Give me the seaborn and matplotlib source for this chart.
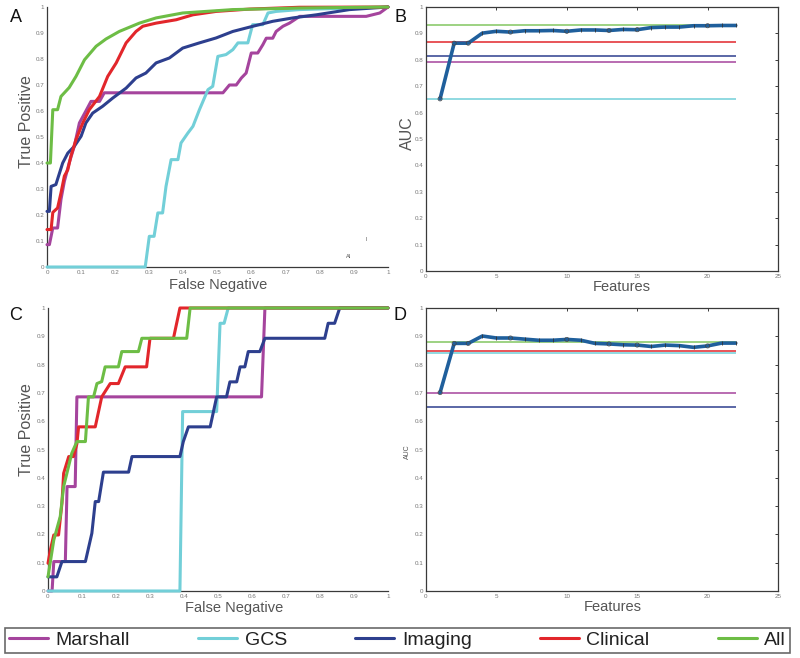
import numpy as np
import pandas as pd
import matplotlib
matplotlib.use("Agg")
import matplotlib.pyplot as plt
import seaborn as sns

# ---------------- data ----------------
series = ["Marshall", "GCS", "Imaging", "Clinical", "All"]
colors = {"Marshall": "#a5449d", "GCS": "#72cfd8", "Imaging": "#2d3f8e",
          "Clinical": "#e2262b", "All": "#6dbd45"}

# Panel A ROC curves
a_marshall_x = [0, 0.007, 0.017, 0.031, 0.041, 0.051, 0.065, 0.08, 0.095, 0.114, 0.129, 0.154, 0.168, 0.516, 0.535, 0.555, 0.57, 0.584, 0.599, 0.618, 0.633, 0.643, 0.662, 0.672, 0.692, 0.711, 0.741, 0.936, 0.976, 1.0]
a_marshall_y = [0.086, 0.086, 0.15, 0.15, 0.26, 0.33, 0.40, 0.464, 0.554, 0.60, 0.637, 0.637, 0.67, 0.67, 0.70, 0.70, 0.727, 0.746, 0.823, 0.823, 0.855, 0.88, 0.88, 0.906, 0.926, 0.938, 0.964, 0.964, 0.977, 1.0]
a_gcs_x = [0, 0.288, 0.3, 0.314, 0.325, 0.339, 0.349, 0.364, 0.384, 0.393, 0.413, 0.428, 0.447, 0.472, 0.486, 0.501, 0.525, 0.545, 0.56, 0.589, 0.603, 0.633, 0.648, 0.672, 0.74, 1.0]
a_gcs_y = [0, 0, 0.118, 0.118, 0.208, 0.208, 0.31, 0.413, 0.413, 0.477, 0.515, 0.541, 0.605, 0.682, 0.695, 0.81, 0.817, 0.836, 0.862, 0.862, 0.932, 0.932, 0.977, 0.983, 0.99, 1.0]
a_imaging_x = [0, 0.007, 0.012, 0.026, 0.046, 0.061, 0.08, 0.1, 0.114, 0.134, 0.163, 0.193, 0.232, 0.261, 0.29, 0.32, 0.359, 0.398, 0.447, 0.496, 0.545, 0.604, 0.662, 0.721, 0.79, 0.887, 1.0]
a_imaging_y = [0.214, 0.214, 0.31, 0.317, 0.40, 0.438, 0.464, 0.503, 0.554, 0.592, 0.618, 0.65, 0.688, 0.727, 0.746, 0.785, 0.804, 0.842, 0.862, 0.881, 0.906, 0.926, 0.945, 0.958, 0.97, 0.99, 1.0]
a_clinical_x = [0, 0.012, 0.017, 0.031, 0.041, 0.051, 0.061, 0.07, 0.085, 0.105, 0.124, 0.154, 0.178, 0.203, 0.232, 0.261, 0.281, 0.32, 0.379, 0.428, 0.496, 0.594, 0.74, 1.0]
a_clinical_y = [0.144, 0.144, 0.21, 0.227, 0.285, 0.35, 0.374, 0.426, 0.49, 0.554, 0.605, 0.656, 0.733, 0.785, 0.862, 0.906, 0.926, 0.938, 0.951, 0.97, 0.983, 0.992, 0.999, 1.0]
a_all_x = [0, 0.01, 0.017, 0.031, 0.041, 0.065, 0.085, 0.11, 0.144, 0.173, 0.212, 0.271, 0.32, 0.398, 0.545, 0.74, 1.0]
a_all_y = [0.40, 0.40, 0.605, 0.605, 0.656, 0.69, 0.733, 0.797, 0.849, 0.877, 0.906, 0.938, 0.958, 0.977, 0.99, 0.996, 1.0]

# Panel C ROC curves
c_marshall_x = [0, 0.012, 0.017, 0.051, 0.056, 0.08, 0.085, 0.628, 0.638, 1.0]
c_marshall_y = [0, 0, 0.104, 0.104, 0.369, 0.369, 0.686, 0.686, 1.0, 1.0]
c_gcs_x = [0, 0.388, 0.396, 0.496, 0.506, 0.518, 0.53, 1.0]
c_gcs_y = [0, 0, 0.634, 0.634, 0.946, 0.946, 1.0, 1.0]
c_imaging_x = [0, 0.026, 0.041, 0.11, 0.129, 0.139, 0.149, 0.163, 0.237, 0.247, 0.388, 0.398, 0.413, 0.477, 0.496, 0.525, 0.535, 0.555, 0.565, 0.579, 0.589, 0.623, 0.638, 0.814, 0.824, 0.843, 0.858, 1.0]
c_imaging_y = [0.05, 0.05, 0.104, 0.104, 0.204, 0.316, 0.316, 0.42, 0.42, 0.475, 0.475, 0.528, 0.58, 0.58, 0.686, 0.686, 0.739, 0.739, 0.792, 0.792, 0.846, 0.846, 0.893, 0.893, 0.946, 0.946, 1.0, 1.0]
c_clinical_x = [0, 0.007, 0.017, 0.031, 0.041, 0.046, 0.061, 0.075, 0.085, 0.09, 0.139, 0.158, 0.183, 0.207, 0.227, 0.29, 0.3, 0.369, 0.388, 1.0]
c_clinical_y = [0.098, 0.145, 0.198, 0.198, 0.31, 0.416, 0.475, 0.475, 0.52, 0.58, 0.58, 0.686, 0.733, 0.733, 0.792, 0.792, 0.893, 0.893, 1.0, 1.0]
c_all_x = [0, 0.017, 0.036, 0.046, 0.07, 0.085, 0.11, 0.119, 0.134, 0.144, 0.158, 0.168, 0.207, 0.217, 0.266, 0.276, 0.408, 0.418, 1.0]
c_all_y = [0.05, 0.18, 0.263, 0.369, 0.487, 0.528, 0.528, 0.686, 0.686, 0.733, 0.74, 0.792, 0.792, 0.846, 0.846, 0.893, 0.893, 1.0, 1.0]

# Panel B / D: AUC vs number of features
features = list(range(1, 23))
b_auc = [0.652, 0.863, 0.863, 0.901, 0.908, 0.905, 0.91, 0.91, 0.911, 0.908, 0.913,
         0.913, 0.911, 0.915, 0.914, 0.922, 0.924, 0.924, 0.929, 0.929, 0.93, 0.93]
d_auc = [0.701, 0.875, 0.875, 0.901, 0.894, 0.894, 0.89, 0.886, 0.886, 0.889, 0.886,
         0.875, 0.873, 0.87, 0.869, 0.864, 0.869, 0.867, 0.861, 0.866, 0.876, 0.876]
circle_features = [1, 2, 3, 6, 10, 13, 15, 20]
b_ref_auc = {"All": 0.93, "Clinical": 0.867, "Imaging": 0.813, "Marshall": 0.792, "GCS": 0.652}
d_ref_auc = {"All": 0.881, "Clinical": 0.849, "GCS": 0.841, "Marshall": 0.70, "Imaging": 0.649}
ref_span = [0, 22]

roc_a = {"Marshall": (a_marshall_x, a_marshall_y), "GCS": (a_gcs_x, a_gcs_y),
         "Imaging": (a_imaging_x, a_imaging_y), "Clinical": (a_clinical_x, a_clinical_y),
         "All": (a_all_x, a_all_y)}
roc_c = {"Marshall": (c_marshall_x, c_marshall_y), "GCS": (c_gcs_x, c_gcs_y),
         "Imaging": (c_imaging_x, c_imaging_y), "Clinical": (c_clinical_x, c_clinical_y),
         "All": (c_all_x, c_all_y)}

# ---------------- style ----------------
sns.set_style("white")
plt.rcParams["font.family"] = ["Liberation Sans", "DejaVu Sans"]

W, H = 800, 658
fig = plt.figure(figsize=(8, 6.58), dpi=100)

def px_axes(l, t, r, b):
    return fig.add_axes([l / W, 1 - b / H, (r - l) / W, (b - t) / H])

axA = px_axes(47, 7, 388, 267)
axB = px_axes(426, 7, 778, 271)
axC = px_axes(48, 308, 388, 591)
axD = px_axes(426, 308, 778, 591)

tick_col = "#777777"
spine_col = "#3a3a3a"

def style_axes(ax, box):
    for s in ax.spines.values():
        s.set_color(spine_col)
        s.set_linewidth(0.9)
    if not box:
        ax.spines["top"].set_visible(False)
        ax.spines["right"].set_visible(False)
    ax.tick_params(direction="in", length=2.5, width=0.7, colors=spine_col,
                   labelsize=4.5, labelcolor=tick_col, pad=2,
                   top=box, right=box)

def roc_panel(ax, roc):
    for name in series:
        xs, ys = roc[name]
        df = pd.DataFrame({"x": xs, "y": ys})
        sns.lineplot(data=df, x="x", y="y", ax=ax, estimator=None, sort=False,
                     color=colors[name], linewidth=2.2, clip_on=False, zorder=3)
    ax.set_xlim(0, 1)
    ax.set_ylim(0, 1)
    ticks = np.round(np.arange(0, 1.01, 0.1), 1)
    labels = ["0"] + [f"{t:g}" for t in ticks[1:-1]] + ["1"]
    ax.set_xticks(ticks)
    ax.set_xticklabels(labels)
    ax.set_yticks(ticks)
    ax.set_yticklabels(labels)
    ax.set_xlabel("")
    ax.set_ylabel("")
    style_axes(ax, box=False)

def auc_panel(ax, auc, refs):
    for name, val in refs.items():
        ax.hlines(val, ref_span[0], ref_span[1], color=colors[name], linewidth=1.1,
                  alpha=0.85 if name == "All" else 1.0, zorder=2)
    df = pd.DataFrame({"f": features, "auc": auc})
    sns.lineplot(data=df, x="f", y="auc", ax=ax, color="#1f5f9c", linewidth=2.6,
                 zorder=4)
    circ = df[df["f"].isin(circle_features)]
    ticks_df = df[~df["f"].isin(circle_features)]
    ax.scatter(circ["f"], circ["auc"], marker="o", s=9, facecolors="none",
               edgecolors="#444444", linewidths=0.5, zorder=5)
    ax.scatter(ticks_df["f"], ticks_df["auc"], marker="|", s=12, color="#333333",
               linewidths=0.6, zorder=5)
    ax.set_xlim(0, 25)
    ax.set_ylim(0, 1)
    ax.set_xticks(range(0, 26, 5))
    yt = np.round(np.arange(0, 1.01, 0.1), 1)
    ax.set_yticks(yt)
    ax.set_yticklabels(["0"] + [f"{t:g}" for t in yt[1:-1]] + ["1"])
    ax.set_xlabel("")
    ax.set_ylabel("")
    style_axes(ax, box=True)

roc_panel(axA, roc_a)
roc_panel(axC, roc_c)
auc_panel(axB, b_auc, b_ref_auc)
auc_panel(axD, d_auc, d_ref_auc)

# stray small texts in panel A
axA.text(0.935, 0.104, "l", fontsize=4, color="#555555", ha="center", va="center")
axA.text(0.883, 0.042, "Al", fontsize=4, color="#555555", ha="center", va="center")

# ---------------- labels ----------------
lab_col = "#555555"
def ftext(x, y, s, size, rot=0, color=lab_col):
    fig.text(x / W, 1 - y / H, s, fontsize=size, rotation=rot, color=color,
             ha="center", va="center")

ftext(27, 122, "True Positive", 11.5, 90)
ftext(218, 285, "False Negative", 10.5)
ftext(407, 133, "AUC", 11.5, 90)
ftext(622, 287, "Features", 10.5)
ftext(27, 430, "True Positive", 11.5, 90)
ftext(234, 608, "False Negative", 10.5)
ftext(407, 452, "AUC", 5, 90)
ftext(613, 607, "Features", 10.5)

for x, y, s in [(16, 17, "A"), (400, 17, "B"), (16, 316, "C"), (400, 316, "D")]:
    ftext(x, y, s, 13, color="#111111")

# ---------------- legend ----------------
handles = [plt.Line2D([], [], color=colors[n], linewidth=2.2) for n in series]
leg = fig.legend(handles, series, loc="lower left", ncol=5, mode="expand",
                 bbox_to_anchor=(5 / W, 1 - 653 / H, 785 / W, 32 / H),
                 fontsize=14, frameon=True, fancybox=False, handlelength=2.0,
                 handletextpad=0.4, borderaxespad=0, borderpad=0.2)
leg.get_frame().set_edgecolor("#444444")
leg.get_frame().set_linewidth(1.2)
for t in leg.get_texts():
    t.set_color("#222222")

fig.savefig("out.png", dpi=100)
